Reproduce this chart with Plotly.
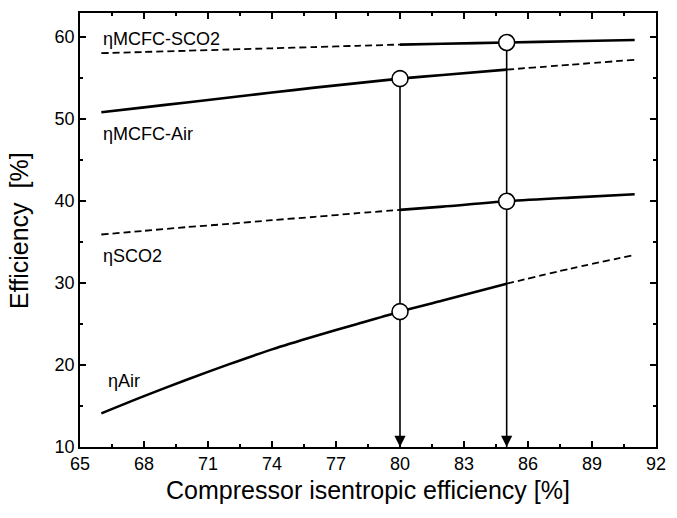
import plotly.graph_objects as go

x_vals = [66, 68, 70, 72, 74, 76, 78, 80, 82, 85, 88, 91]
mcfc_sco2 = [58.0, 58.15, 58.3, 58.45, 58.6, 58.75, 58.9, 59.05, 59.15, 59.3, 59.45, 59.6]
mcfc_air = [50.8, 51.4, 52.0, 52.6, 53.2, 53.8, 54.35, 54.9, 55.35, 56.0, 56.6, 57.2]
sco2 = [35.9, 36.35, 36.8, 37.2, 37.65, 38.05, 38.5, 38.9, 39.3, 39.95, 40.4, 40.8]
air = [14.1, 16.2, 18.2, 20.1, 21.9, 23.5, 25.0, 26.5, 27.85, 29.9, 31.75, 33.4]

x_ticks = [65, 68, 71, 74, 77, 80, 83, 86, 89, 92]
y_ticks = [10, 20, 30, 40, 50, 60]

# (series, dashed range, solid range) -- split points in x
series = [
    ("ηMCFC-SCO2", mcfc_sco2, (66, 80), (80, 91)),
    ("ηMCFC-Air", mcfc_air, (85, 91), (66, 85)),
    ("ηSCO2", sco2, (66, 80), (80, 91)),
    ("ηAir", air, (85, 91), (66, 85)),
]
design_points = [(80, mcfc_air), (85, mcfc_sco2), (85, sco2), (80, air)]
arrow_x = [80, 85]
arrow_top = {80: mcfc_air[x_vals.index(80)], 85: mcfc_sco2[x_vals.index(85)]}

FONT = "Arial, Liberation Sans, Helvetica, sans-serif"

fig = go.Figure()

def seg(xs, ys, lo, hi):
    px, py = [], []
    for a, b in zip(xs, ys):
        if lo <= a <= hi:
            px.append(a)
            py.append(b)
    return px, py

for name, ys, dr, sr in series:
    dx, dy = seg(x_vals, ys, *dr)
    fig.add_trace(go.Scatter(x=dx, y=dy, mode="lines",
                             line=dict(color="black", width=1.8, dash="7px,4px", shape="spline", smoothing=0.8),
                             showlegend=False, hoverinfo="skip"))
    sx, sy = seg(x_vals, ys, *sr)
    fig.add_trace(go.Scatter(x=sx, y=sy, mode="lines",
                             line=dict(color="black", width=2.6, shape="spline", smoothing=0.8),
                             showlegend=False, hoverinfo="skip"))

# vertical guide lines
for xa in arrow_x:
    fig.add_trace(go.Scatter(x=[xa, xa], y=[arrow_top[xa], 10], mode="lines",
                             line=dict(color="black", width=1.6), showlegend=False, hoverinfo="skip"))

# circles
fig.add_trace(go.Scatter(
    x=[p[0] for p in design_points],
    y=[p[1][x_vals.index(p[0])] for p in design_points],
    mode="markers",
    marker=dict(symbol="circle", size=16, color="white", line=dict(color="black", width=1.6)),
    showlegend=False, hoverinfo="skip"))

for xa in arrow_x:
    fig.add_annotation(x=xa, y=10, ax=xa, ay=11.5, xref="x", yref="y", axref="x", ayref="y",
                       text="", showarrow=True, arrowhead=2, arrowsize=1.4, arrowwidth=1.6,
                       arrowcolor="black")

labels = [
    ("ηMCFC-SCO2", 66.0, 59.75),
    ("ηMCFC-Air", 66.0, 48.2),
    ("ηSCO2", 66.0, 33.3),
    ("ηAir", 66.2, 18.0),
]
for t, lx, ly in labels:
    fig.add_annotation(x=lx, y=ly, text=t, showarrow=False, xanchor="left", yanchor="middle",
                       font=dict(family=FONT, size=18, color="black"))

# y-axis title
fig.add_annotation(x=-0.106, y=0.5, xref="paper", yref="paper", text="Efficiency  [%]",
                   textangle=-90, showarrow=False, xanchor="center", yanchor="middle",
                   font=dict(family=FONT, size=25, color="black"))

axis_common = dict(showline=True, linecolor="black", linewidth=1.5, mirror="ticks",
                   ticks="inside", ticklen=6, tickwidth=1.5, tickcolor="black",
                   showgrid=False, zeroline=False,
                   tickfont=dict(family=FONT, size=18, color="black"))

fig.update_xaxes(range=[65, 92], tickvals=x_ticks,
                 minor=dict(ticks="inside", ticklen=3, tickwidth=1.5, tickcolor="black", dtick=1.5, tick0=65),
                 title=dict(text="Compressor isentropic efficiency [%]", font=dict(family=FONT, size=25, color="black"),
                            standoff=8),
                 **axis_common)
fig.update_yaxes(range=[10, 62.9], tickvals=y_ticks,
                 minor=dict(ticks="inside", ticklen=3, tickwidth=1.5, tickcolor="black", dtick=5, tick0=10),
                 **axis_common)

fig.update_layout(width=677, height=518, margin=dict(l=80, r=12, t=11, b=71),
                  plot_bgcolor="white", paper_bgcolor="white", font=dict(family=FONT))

fig.write_html("out.html")
